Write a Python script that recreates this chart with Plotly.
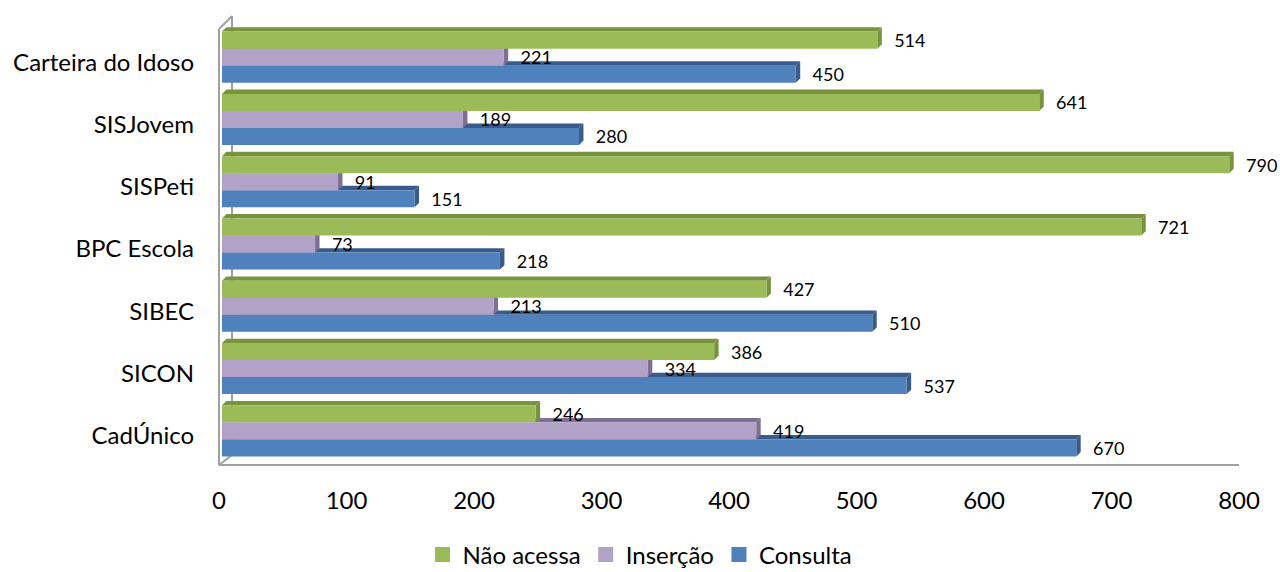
import plotly.graph_objects as go

categories = ["CadÚnico", "SICON", "SIBEC", "BPC Escola", "SISPeti", "SISJovem", "Carteira do Idoso"]
consulta = [670, 537, 510, 218, 151, 280, 450]
insercao = [419, 334, 213, 73, 91, 189, 221]
nao_acessa = [246, 386, 427, 721, 790, 641, 514]
x_ticks = [0, 100, 200, 300, 400, 500, 600, 700, 800]

series = [
    ("Consulta", consulta, "#4F81BD", "#385D8A"),
    ("Inserção", insercao, "#B2A2C7", "#7F6F95"),
    ("Não acessa", nao_acessa, "#9BBB59", "#77933C"),
]

FONT = "Lato"
fig = go.Figure()
for name, vals, col, _ in series:
    fig.add_trace(go.Bar(
        y=categories, x=vals, name=name, orientation="h",
        marker=dict(color=col, line=dict(width=0)),
        text=vals, texttemplate="   %{x}", textposition="outside",
        constraintext="none", cliponaxis=False, showlegend=False,
        textfont=dict(family=FONT, size=18, color="#000000"),
    ))
# legend entries with larger square keys
for name, vals, col, _ in series:
    fig.add_trace(go.Scatter(
        x=[None], y=[None], name=name, mode="markers",
        marker=dict(symbol="square", size=15, color=col, line=dict(width=0)),
    ))

# 3D faces derived from data
bargap = 0.18
n = len(series)
w = (1 - bargap) / n
dx = 3.5
dy = 0.07
shapes = []
for i, (name, vals, col, dark) in enumerate(series):
    for ci, v in enumerate(vals):
        yb = ci - (1 - bargap) / 2 + i * w
        yt = yb + w
        top = f"M 0,{yt} L {dx},{yt+dy} L {v+dx},{yt+dy} L {v},{yt} Z"
        side = f"M {v},{yb} L {v},{yt} L {v+dx},{yt+dy} L {v+dx},{yb+dy} Z"
        shapes.append(dict(type="path", path=top, xref="x", yref="y", layer="below",
                           fillcolor=dark, line=dict(width=0)))
        shapes.append(dict(type="path", path=side, xref="x", yref="y", layer="below",
                           fillcolor=dark, line=dict(width=0)))

# wall / floor frame (pixel -> paper)
L, R, T, B = 222, 1242, 26, 462
def px(x): return (x - L) / (R - L)
def py(y): return (B - y) / (B - T)
wall = "#A0A0A0"
for (x0, y0, x1, y1) in [(219, 29, 219, 465), (232, 16, 232, 455), (219, 29, 232, 16),
                         (219, 465, 232, 455), (219, 465, 1239, 465)]:
    shapes.append(dict(type="line", xref="paper", yref="paper", layer="below",
                       x0=px(x0), y0=py(y0), x1=px(x1), y1=py(y1),
                       line=dict(color=wall, width=2)))

fig.update_layout(
    width=1280, height=572,
    margin=dict(l=L, r=1280 - R, t=T, b=572 - B),
    paper_bgcolor="white", plot_bgcolor="white",
    barmode="group", bargap=bargap, bargroupgap=0,
    font=dict(family=FONT, color="#000000"),
    shapes=shapes,
    showlegend=True,
    legend=dict(orientation="h", traceorder="reversed", itemwidth=30,
                xref="container", yref="container", x=0.5, xanchor="center",
                y=0.03, yanchor="middle", font=dict(family=FONT, size=24)),
    xaxis=dict(range=[0, 800], tickvals=x_ticks, showgrid=False, zeroline=False,
               showline=False, ticks="", tickfont=dict(size=24),
               ticklabelstandoff=22, ticklabelshift=-3),
    yaxis=dict(categoryorder="array", categoryarray=categories, showgrid=False,
               zeroline=False, showline=False, ticks="", tickfont=dict(size=24),
               ticklabelstandoff=27, ticklabelshift=5,
               range=[-0.5, len(categories) - 0.5]),
)
fig.write_html("out.html")
